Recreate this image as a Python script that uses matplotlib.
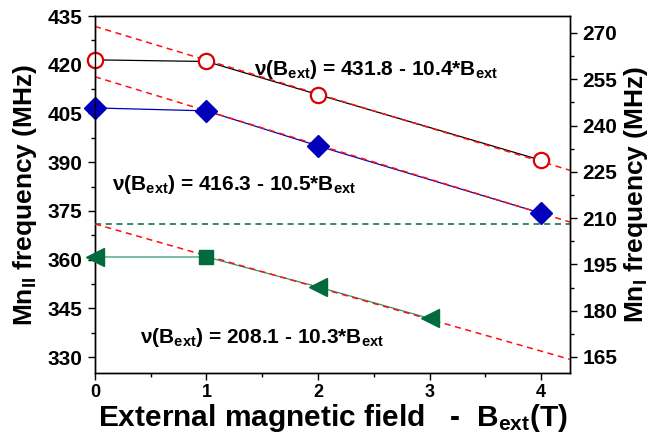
import numpy as np
import matplotlib
matplotlib.use("Agg")
import matplotlib.pyplot as plt
from matplotlib.ticker import MultipleLocator

plt.rcParams['font.family'] = ['Liberation Sans', 'DejaVu Sans']
plt.rcParams['font.weight'] = 'bold'
plt.rcParams['mathtext.fontset'] = 'custom'
plt.rcParams['mathtext.rm'] = 'Liberation Sans:bold'
plt.rcParams['mathtext.bf'] = 'Liberation Sans:bold'
plt.rcParams['mathtext.it'] = 'Liberation Sans:bold'

# Data (MHz vs Tesla)
b_upper = [0, 1, 2, 4]
f_upper = [421.5, 421.0, 410.8, 390.6]          # red open circles (left axis)
b_middle = [0, 1, 2, 4]
f_middle = [406.7, 405.8, 395.0, 374.3]         # blue diamonds (left axis)
b_lower_tri = [0, 2, 3]
f_lower_tri = [197.4, 187.7, 177.5]             # green triangles (right axis)
b_lower_sq = [1]
f_lower_sq = [197.4]                            # green square (right axis)
b_lower_line = [0, 1, 2, 3]
f_lower_line = [197.4, 197.4, 187.7, 177.5]

# Linear fits: intercept, slope
fit_upper = (431.8, -10.4)
fit_middle = (416.3, -10.5)
fit_lower = (208.1, -10.3)
green_ref = 208.1

eq_upper = "ν(B$_{\\mathrm{ext}}$) = 431.8 - 10.4*B$_{\\mathrm{ext}}$"
eq_middle = "ν(B$_{\\mathrm{ext}}$) = 416.3 - 10.5*B$_{\\mathrm{ext}}$"
eq_lower = "ν(B$_{\\mathrm{ext}}$) = 208.1 - 10.3*B$_{\\mathrm{ext}}$"

xmax = 4.26

fig = plt.figure(figsize=(6.56, 4.41), dpi=100)
ax = fig.add_axes([0.1448, 0.1542, 0.8689 - 0.1448, 0.9637 - 0.1542])
ax2 = ax.twinx()

red = '#dd0000'
blue = '#0000bb'
green = '#006b3c'

xx = np.array([0, xmax])

# Left axis
ax.plot(b_upper, f_upper, color='black', lw=0.9, zorder=2)
ax.plot(b_middle, f_middle, color=blue, lw=0.9, zorder=2)
ax.plot(xx, fit_upper[0] + fit_upper[1] * xx, color='#ff1010', lw=1.1,
        dashes=(4, 3), zorder=3)
ax.plot(xx, fit_middle[0] + fit_middle[1] * xx, color='#ff1010', lw=1.1,
        dashes=(4, 3), zorder=3)
ax.plot(b_upper, f_upper, linestyle='none', marker='o', ms=11,
        mfc='white', mec=red, mew=1.6, zorder=5, clip_on=False)
ax.plot(b_middle, f_middle, linestyle='none', marker='D', ms=11,
        mfc=blue, mec=blue, zorder=5, clip_on=False)

ax.set_xlim(0, xmax)
ax.set_ylim(325.1, 435)
ax.set_yticks([330, 345, 360, 375, 390, 405, 420, 435])
ax.yaxis.set_minor_locator(MultipleLocator(7.5))
ax.set_xticks([0, 1, 2, 3, 4])
ax.xaxis.set_minor_locator(MultipleLocator(0.5))

# Right axis
ax2.plot(b_lower_line, f_lower_line, color='#2a9a6a', lw=0.9, zorder=2)
ax2.axhline(green_ref, color=green, lw=1.1, dashes=(4, 3), zorder=2)
ax2.plot(xx, fit_lower[0] + fit_lower[1] * xx, color='#ff1010', lw=1.1,
         dashes=(4, 3), zorder=3)
ax2.plot(b_lower_tri, f_lower_tri, linestyle='none', marker='<', ms=13,
         mfc=green, mec=green, zorder=5, clip_on=False)
ax2.plot(b_lower_sq, f_lower_sq, linestyle='none', marker='s', ms=10,
         mfc=green, mec=green, zorder=5, clip_on=False)
ax2.set_ylim(159.8, 275.5)
ax2.set_yticks([165, 180, 195, 210, 225, 240, 255, 270])
ax2.yaxis.set_minor_locator(MultipleLocator(7.5))

for a in (ax, ax2):
    a.tick_params(which='major', direction='out', length=5, width=1.0,
                  labelsize=15, pad=4)
    a.tick_params(which='minor', direction='out', length=3, width=1.0)
    for s in a.spines.values():
        s.set_linewidth(1.0)
ax.tick_params(axis='x', labelsize=13, pad=3)
for lab in ax.get_xticklabels() + ax.get_yticklabels() + ax2.get_yticklabels():
    lab.set_fontweight('bold')

ax.set_xlabel("External magnetic field   -  B$_{\\mathrm{ext}}$(T)",
              fontsize=21.5, fontweight='bold', labelpad=1)
ax.set_ylabel("Mn$_{\\mathrm{II}}$ frequency (MHz)", fontsize=19,
              fontweight='bold', labelpad=6)
ax2.set_ylabel("Mn$_{\\mathrm{I}}$ frequency (MHz)", fontsize=19,
               fontweight='bold', labelpad=3, rotation=90)

ax.text(1.43, 418.4, eq_upper, fontsize=15, fontweight='bold', va='center')
ax.text(0.15, 383.0, eq_middle, fontsize=15, fontweight='bold', va='center')
ax.text(0.40, 335.9, eq_lower, fontsize=15, fontweight='bold', va='center')

fig.savefig("out.png", dpi=100)
